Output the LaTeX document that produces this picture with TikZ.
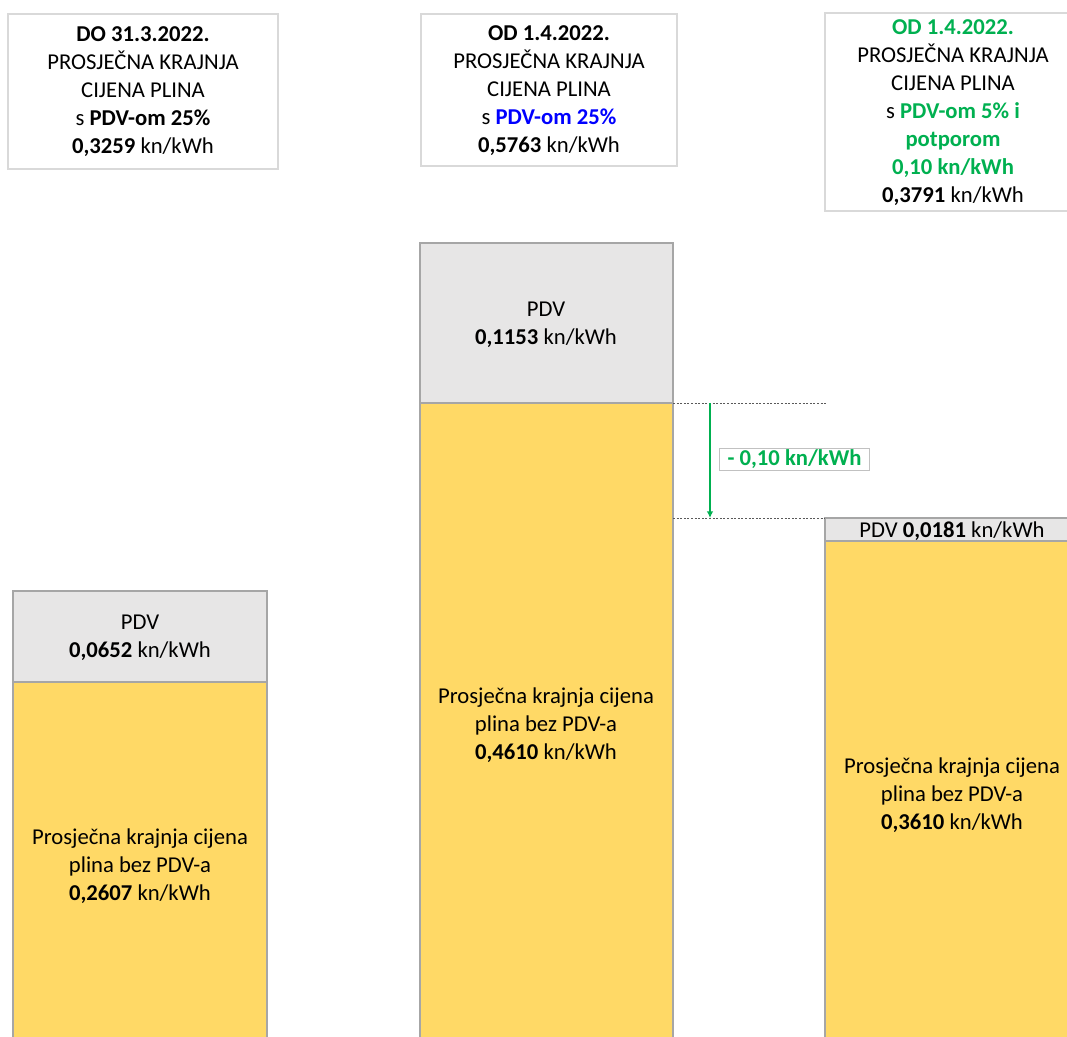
\documentclass[tikz,border=0pt]{standalone}
\usepackage{fontspec}
\setmainfont{Carlito}
\usetikzlibrary{arrows.meta}
\definecolor{pdvgray}{HTML}{E7E6E6}
\definecolor{netyellow}{HTML}{FFD966}
\definecolor{edgegray}{HTML}{A6A6A6}
\definecolor{boxgray}{HTML}{D9D9D9}
\definecolor{hzzgreen}{HTML}{00B050}
\definecolor{hzzblue}{HTML}{0000FF}
\tikzset{
  txt/.style={align=center, inner sep=0pt, font=\fontsize{17}{21}\selectfont},
  headbox/.style={draw=boxgray, line width=0.8pt},
  pdvbar/.style={fill=pdvgray, draw=edgegray, line width=0.8pt},
  netbar/.style={fill=netyellow, draw=edgegray, line width=0.8pt},
  guide/.style={draw=black!65, line width=0.5pt, dash pattern=on 1.5pt off 1.2pt},
  cutarrow/.style={draw=hzzgreen, line width=1.1pt, -{Latex[length=5pt,width=5pt]}}
}
\begin{document}
\begin{tikzpicture}[x=0.75pt, y=-0.75pt]
\useasboundingbox (0,0) rectangle (1067,1037);
% naslovi
\draw[headbox] (8,14) rectangle (278,169);
\node[txt] (headA) at (143,92) {\textbf{DO 31.3.2022.}\\PROSJEČNA KRAJNJA\\CIJENA PLINA\\s \textbf{PDV-om 25\%}\\\textbf{0,3259} kn/kWh};
\draw[headbox] (421,14) rectangle (677,166);
\node[txt] (headB) at (549,91) {\textbf{OD 1.4.2022.}\\PROSJEČNA KRAJNJA\\CIJENA PLINA\\s \textcolor{hzzblue}{\textbf{PDV-om 25\%}}\\\textbf{0,5763} kn/kWh};
\draw[headbox] (825,13) rectangle (1081,211);
\node[txt] (headC) at (953,113) {\textcolor{hzzgreen}{\textbf{OD 1.4.2022.}}\\PROSJEČNA KRAJNJA\\CIJENA PLINA\\s \textcolor{hzzgreen}{\textbf{PDV-om 5\% i}}\\\textcolor{hzzgreen}{\textbf{potporom}}\\\textcolor{hzzgreen}{\textbf{0,10 kn/kWh}}\\\textbf{0,3791} kn/kWh};
% stupci
\filldraw[netbar] (13,682) rectangle (267,1045);
\filldraw[pdvbar] (13,591) rectangle (267,682);
\node[txt] (pdvA) at (140,638) {PDV\\\textbf{0,0652} kn/kWh};
\node[txt] (netA) at (140,866) {Prosječna krajnja cijena\\plina bez PDV-a\\\textbf{0,2607} kn/kWh};
\filldraw[netbar] (420,403) rectangle (673,1045);
\filldraw[pdvbar] (420,243) rectangle (673,403);
\node[txt] (pdvB) at (546,325) {PDV\\\textbf{0,1153} kn/kWh};
\node[txt] (netB) at (546,725) {Prosječna krajnja cijena\\plina bez PDV-a\\\textbf{0,4610} kn/kWh};
\filldraw[netbar] (825,541) rectangle (1080,1045);
\filldraw[pdvbar] (825,518) rectangle (1080,541);
\node[txt] (pdvC) at (952,531) {PDV \textbf{0,0181} kn/kWh};
\node[txt] (netC) at (952,795) {Prosječna krajnja cijena\\plina bez PDV-a\\\textbf{0,3610} kn/kWh};
% smanjenje
\coordinate (oldTop) at (673,403);
\coordinate (newTop) at (673,518);
\draw[guide] (oldTop) -- (826,403);
\draw[guide] (newTop) -- (825,518);
\coordinate (cutFrom) at (710,403);
\coordinate (cutTo) at (710,518);
\draw[cutarrow] (cutFrom) -- (cutTo);
\node[txt, draw=edgegray!70, line width=0.8pt, fill=white, minimum width=113pt, minimum height=16pt, text=hzzgreen, font=\fontsize{17}{21}\selectfont\bfseries] (cutLabel) at (794.5,459.5) {- 0,10 kn/kWh};
\end{tikzpicture}
\end{document}
